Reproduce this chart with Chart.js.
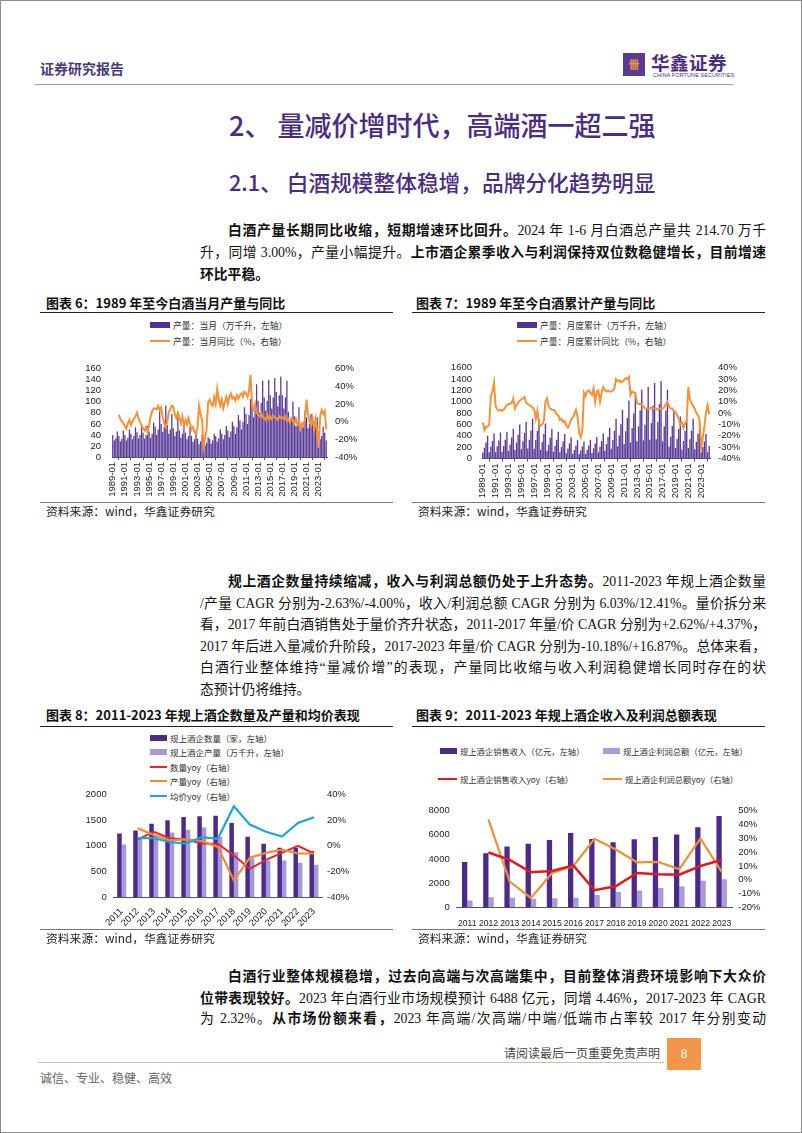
<!DOCTYPE html>
<html lang="zh-CN">
<head>
<meta charset="utf-8">
<title>量减价增时代，高端酒一超二强</title>
<script src="https://cdn.jsdelivr.net/npm/chart.js@4.4.1/dist/chart.umd.min.js"></script>
<style>
  html, body { margin: 0; padding: 0; background: #fff; }
  #page { position: relative; width: 802px; height: 1133px; overflow: hidden; background: #fff;
          font-family: "Noto Sans CJK SC", sans-serif; color: #111; }
  #frame { position: absolute; left: 0; top: 0; width: 802px; height: 1133px; box-sizing: border-box;
           border: 1px solid #8a8a8a; pointer-events: none; }
  .abs { position: absolute; white-space: nowrap; }
  .para { position: absolute; left: 200px; width: 566px; height: 20px; line-height: 20px;
          font-family: "Liberation Sans Narrow", "Liberation Serif", "Noto Sans CJK SC", serif;
          font-size: 13.8px; color: #111; text-align: justify; text-align-last: justify; }
  .para.first { text-indent: 28px; }
  .para.last { text-align-last: left; }
  .para b { font-weight: 700; }
  .ctitle { position: absolute; font-size: 13px; font-weight: 700; line-height: 14px; white-space: nowrap; color: #111; }
  .rule { position: absolute; height: 0; }
  .src { position: absolute; font-size: 11.8px; line-height: 14px; color: #222; white-space: nowrap; }
  .leg { position: absolute; display: flex; align-items: center; height: 12px; font-size: 8.8px;
         color: #333; white-space: nowrap; }
  .leg i { display: inline-block; width: 20px; height: 6px; margin-right: 3px; }
  .leg i.ln { height: 2.5px; }
  canvas { position: absolute; }
</style>
</head>
<body>
<div id="page">
  <!-- header -->
  <div class="abs" style="left:40px;top:60px;font-size:14px;line-height:16px;font-weight:700;color:#4b3b7d;">证券研究报告</div>
  <div class="abs" style="left:623px;top:53px;width:22px;height:23px;background:#5b3a92;color:#f39a3e;font-size:11px;line-height:23px;text-align:center;font-weight:700;">卌</div>
  <div class="abs" style="left:651px;top:52px;font-size:18.5px;line-height:20px;font-weight:700;color:#4d2d83;letter-spacing:0.5px;">华鑫证券</div>
  <div class="abs" style="left:653px;top:72px;font-family:'Liberation Sans',sans-serif;font-size:5.4px;line-height:6px;color:#4d2d83;letter-spacing:0.15px;">CHINA FORTUNE SECURITIES</div>
  <div class="rule" style="left:35px;top:84px;width:698px;border-top:1px solid #a0a0a0;"></div>

  <!-- headings -->
  <div class="abs" style="left:229px;top:110px;font-size:27px;line-height:29px;font-weight:500;color:#4b2c85;">2、 量减价增时代，高端酒一超二强</div>
  <div class="abs" style="left:229px;top:170px;font-size:21.7px;line-height:24px;font-weight:500;color:#4b2c85;">2.1、 白酒规模整体稳增，品牌分化趋势明显</div>

  <!-- paragraph 1 -->
  <div class="para first" style="top:221px;"><b>白酒产量长期同比收缩，短期增速环比回升。</b>2024 年 1-6 月白酒总产量共 214.70 万千</div>
  <div class="para" style="top:243px;">升，同增 3.00%，产量小幅提升。<b>上市酒企累季收入与利润保持双位数稳健增长，目前增速</b></div>
  <div class="para last" style="top:265px;"><b>环比平稳。</b></div>

  <!-- chart 6 / chart 7 frames -->
  <div class="ctitle" style="left:46px;top:296px;">图表 6：1989 年至今白酒当月产量与同比</div>
  <div class="rule" style="left:40px;top:311.5px;width:353px;border-top:1.5px solid #222;"></div>
  <div class="ctitle" style="left:416px;top:296px;">图表 7：1989 年至今白酒累计产量与同比</div>
  <div class="rule" style="left:412px;top:311.5px;width:353px;border-top:1.5px solid #222;"></div>

  <div class="leg" style="left:150px;top:319px;"><i style="background:#4f318f"></i>产量：当月（万千升，左轴）</div>
  <div class="leg" style="left:150px;top:335px;"><i class="ln" style="background:#f7923a"></i>产量：当月同比（%，右轴）</div>
  <div class="leg" style="left:517px;top:319px;"><i style="background:#4f318f"></i>产量：月度累计（万千升，左轴）</div>
  <div class="leg" style="left:517px;top:335px;"><i class="ln" style="background:#f7923a"></i>产量：月度累计同比（%，右轴）</div>

  <canvas id="c6" width="355" height="148" style="left:40px;top:352px;width:355px;height:148px;"></canvas>
  <canvas id="c7" width="355" height="148" style="left:410px;top:352px;width:355px;height:148px;"></canvas>

  <div class="rule" style="left:40px;top:502px;width:353px;border-top:1px solid #777;"></div>
  <div class="src" style="left:46px;top:504px;">资料来源：wind，华鑫证券研究</div>
  <div class="rule" style="left:412px;top:502px;width:353px;border-top:1px solid #777;"></div>
  <div class="src" style="left:418px;top:504px;">资料来源：wind，华鑫证券研究</div>

  <!-- paragraph 2 -->
  <div class="para first" style="top:572px;"><b>规上酒企数量持续缩减，收入与利润总额仍处于上升态势。</b>2011-2023 年规上酒企数量</div>
  <div class="para" style="top:593.5px;">/产量 CAGR 分别为-2.63%/-4.00%，收入/利润总额 CAGR 分别为 6.03%/12.41%。量价拆分来</div>
  <div class="para" style="top:615px;">看，2017 年前白酒销售处于量价齐升状态，2011-2017 年量/价 CAGR 分别为+2.62%/+4.37%，</div>
  <div class="para" style="top:636.5px;">2017 年后进入量减价升阶段，2017-2023 年量/价 CAGR 分别为-10.18%/+16.87%。总体来看，</div>
  <div class="para" style="top:658px;">白酒行业整体维持“量减价增”的表现，产量同比收缩与收入利润稳健增长同时存在的状</div>
  <div class="para last" style="top:679.5px;">态预计仍将维持。</div>

  <!-- chart 8 / chart 9 frames -->
  <div class="ctitle" style="left:46px;top:708px;">图表 8：2011-2023 年规上酒企数量及产量和均价表现</div>
  <div class="rule" style="left:40px;top:725.5px;width:353px;border-top:1.5px solid #222;"></div>
  <div class="ctitle" style="left:416px;top:708px;">图表 9：2011-2023 年规上酒企收入及利润总额表现</div>
  <div class="rule" style="left:412px;top:725.5px;width:353px;border-top:1.5px solid #222;"></div>

  <div class="leg" style="left:150px;top:732px;font-size:8.5px;"><i style="width:17px;background:#4b2a8a"></i>规上酒企数量（家，左轴）</div>
  <div class="leg" style="left:150px;top:746px;font-size:8.5px;"><i style="width:17px;background:#a698d8"></i>规上酒企产量（万千升，左轴）</div>
  <div class="leg" style="left:150px;top:761px;font-size:8.5px;"><i class="ln" style="width:17px;background:#e8262b"></i>数量yoy（右轴）</div>
  <div class="leg" style="left:150px;top:775px;font-size:8.5px;"><i class="ln" style="width:17px;background:#f28a33"></i>产量yoy（右轴）</div>
  <div class="leg" style="left:150px;top:790px;font-size:8.5px;"><i class="ln" style="width:17px;background:#1aa6e0"></i>均价yoy（右轴）</div>

  <div class="leg" style="left:440px;top:745px;font-size:8.3px;"><i style="width:17px;background:#4b2a8a"></i>规上酒企销售收入（亿元，左轴）</div>
  <div class="leg" style="left:603px;top:745px;font-size:8.3px;"><i style="width:17px;background:#a99cdb"></i>规上酒企利润总额（亿元，左轴）</div>
  <div class="leg" style="left:438px;top:773px;font-size:8.3px;"><i class="ln" style="width:19px;background:#e4181c"></i>规上酒企销售收入yoy（右轴）</div>
  <div class="leg" style="left:603px;top:773px;font-size:8.3px;"><i class="ln" style="width:19px;background:#f0903a"></i>规上酒企利润总额yoy（右轴）</div>

  <canvas id="c8" width="355" height="150" style="left:40px;top:782px;width:355px;height:150px;"></canvas>
  <canvas id="c9" width="360" height="128" style="left:410px;top:798px;width:360px;height:128px;"></canvas>

  <div class="rule" style="left:40px;top:929px;width:353px;border-top:1px solid #777;"></div>
  <div class="src" style="left:46px;top:931px;">资料来源：wind，华鑫证券研究</div>
  <div class="rule" style="left:412px;top:929px;width:353px;border-top:1px solid #777;"></div>
  <div class="src" style="left:418px;top:931px;">资料来源：wind，华鑫证券研究</div>

  <!-- paragraph 3 -->
  <div class="para first" style="top:967px;"><b>白酒行业整体规模稳增，过去向高端与次高端集中，目前整体消费环境影响下大众价</b></div>
  <div class="para" style="top:988.5px;"><b>位带表现较好。</b>2023 年白酒行业市场规模预计 6488 亿元，同增 4.46%，2017-2023 年 CAGR</div>
  <div class="para" style="top:1009px;">为 2.32%。<b>从市场份额来看，</b>2023 年高端/次高端/中端/低端市占率较 2017 年分别变动</div>

  <!-- footer -->
  <div class="abs" style="left:504px;top:1046px;font-size:12px;line-height:14px;color:#444;">请阅读最后一页重要免责声明</div>
  <div class="abs" style="left:667px;top:1038px;width:34px;height:32px;background:#f3964a;color:#fff;font-family:'Liberation Sans',sans-serif;font-size:12px;line-height:32px;text-align:center;">8</div>
  <div class="rule" style="left:38px;top:1062px;width:626px;border-top:1px solid #c9c5ae;"></div>
  <div class="abs" style="left:40px;top:1071px;font-size:12px;line-height:14px;color:#666;">诚信、专业、稳健、高效</div>

  <div id="frame"></div>
</div>

<script>
// ---- chart 6 / 7: quarterly samples, 1989-01 .. 2024-04 ----
const quarterLabels = [];
for (let y = 1989; y <= 2024; y++) {
  ['01', '04', '07', '10'].forEach((m) => quarterLabels.push(`${y}-${m}`));
}
quarterLabels.length = 142;

// 产量：当月（万千升）
const prodMonthly = [
  40, 30, 34, 46,   38, 28, 33, 48,   40, 30, 35, 50,   42, 32, 38, 54,
  45, 34, 40, 58,   44, 33, 40, 56,   46, 35, 42, 62,   55, 40, 50, 90,
  60, 45, 55, 93,   58, 42, 50, 78,   52, 38, 46, 80,   48, 35, 42, 62,
  44, 32, 38, 55,   38, 27, 32, 46,   33, 23, 28, 40,   30, 21, 26, 36,
  33, 24, 30, 42,   38, 28, 34, 50,   42, 32, 40, 56,   48, 36, 46, 64,
  56, 42, 54, 76,   66, 50, 64, 90,   78, 60, 76, 105,  92, 72, 90, 132,
  102, 80, 98, 138, 108, 84, 102, 140, 112, 88, 108, 143, 118, 92, 112, 146,
  112, 88, 108, 138, 82, 62, 72, 100, 74, 56, 64, 90,   58, 54, 62, 84,
  72, 52, 60, 78,   66, 48, 56, 72,   46, 32, 38, 55,   44, 30
];

// 产量：当月同比（%）
const prodMonthlyYoy = [
  null, null, null, null, 8, 3, 0, -2,   -5, -8, -2, 2,    -4, 0, 3, 6,
  10, 4, 0, -4,     -8, -10, -6, -12,  -4, 6, 12, 15,    15, 14, 18, 13,
  16, 5, -2, -6,    0, 11, 14, 18,     17, 8, 4, 10,     5, -2, 6, -4,
  2, -3, 4, -2,     -9, -6, -12, -14,  -6, 18, 8, 2,     -28, -18, -8, 22,
  25, 20, 18, 28,   20, 37, 25, 18,    25, 15, 22, 28,   20, 28, 32, 26,
  28, 24, 30, 26,   30, 32, 28, 34,    32, 28, 35, 53,   18, 14, 20, 10,
  8, 6, 10, 5,      4, 2, 8, 3,        6, 3, 7, 5,       4, 2, 6, 4,
  5, 3, 6, 1,       3, -1, 4, 2,       -2, 3, -3, 1,     -8, -2, -5, 4,
  25, 8, 0, -4,     4, -8, 3, -12,     -30, 6, 13, 9,    12, -9
];

// 产量：月度累计（万千升）
const prodCum = [
  100, 188, 280, 400,  110, 207, 308, 440,  114, 214, 319, 456,  118, 222, 330, 472,
  132, 247, 368, 526,  150, 282, 420, 600,  161, 303, 451, 644,  175, 329, 490, 700,
  172, 324, 483, 690,  154, 290, 432, 617,  130, 244, 364, 520,  118, 222, 330, 472,
  108, 202, 301, 430,  94, 177, 263, 376,   80, 151, 225, 322,   75, 141, 210, 300,
  82, 155, 231, 330,   95, 179, 266, 380,   110, 207, 308, 440,  135, 254, 378, 540,
  174, 328, 489, 698,  215, 404, 602, 860,  255, 479, 714, 1020, 282, 531, 791, 1130,
  302, 569, 847, 1210, 315, 593, 883, 1262, 332, 625, 931, 1330, 341, 642, 955, 1365,
  302, 569, 847, 1210, 205, 385, 574, 820,  185, 348, 518, 740,  160, 310, 483, 690,
  185, 340, 490, 700,  162, 295, 434, 620,  110, 202, 301, 430,  112, 220
];

// 产量：月度累计同比（%）
const prodCumYoy = [
  -8, -15, -12, -12,  -10, 15, 19, 27,   6, 3, 2, 3,       2, 3, 5, 7,
  8, 8, 9, 13,        4, 7, 9, 11,       12, 13, 14, 9,    8, 7, 6, 5,
  3, -5, 2, -9,       -11, -10, -7, 10,  13, 6, 4, 3,      3, 2, -1, -2,
  -6, -5, -8, -7,     -11, -13, -10, -6, -4, -1, 3, -3,    -17, -21, -15, 18,
  15, 19, 20, 18,     16, 22, 10, 19,    20, 10, 18, 23,   20, 19, 20, 19,
  19, 20, 22, 30,     28, 29, 27, 28,    29, 31, 30, 32,   16, 19, 18, 18,
  9, 8, 8, 7,         6, 4, 4, 4,        4, 5, 4, 4,       4, 3, 4, 4,
  4, 5, 8, 10,        6, 4, 4, 2,        1, -2, -5, -10,   -8, -13, -9, -6,
  23, 12, 9, 6,       4, 0, -2, -6,      -30, -22, -12, 0, 7, -1
];

// ---- chart 8 / 9: annual, 2011-2023 ----
const firmYears = ['2011', '2012', '2013', '2014', '2015', '2016', '2017', '2018', '2019', '2020', '2021', '2022', '2023'];
const firmCount = [1240, 1300, 1430, 1500, 1565, 1580, 1590, 1445, 1176, 1040, 965, 963, 900];
const firmOutput = [1026, 1140, 1200, 1260, 1315, 1360, 1180, 875, 760, 715, 716, 671, 629];
const firmCountYoy = [null, 5, 11, 6, 5, 1.8, 1.6, -7.5, -18, -11, -5.5, 0, -6];
const firmOutputYoy = [null, 13.7, 8.5, 4.3, 5, 3.8, -0.8, -27, -9.2, -5.5, -3, -6, -6];
const avgPriceYoy = [null, 6, 6, 3, 1.8, 6.8, 5.5, 31, 16.6, 11, 7.3, 17.9, 22.3];

const revenue = [3750, 4480, 5030, 5270, 5580, 6150, 5660, 5380, 5630, 5830, 6035, 6630, 7563];
const profit = [572, 825, 800, 700, 745, 800, 1015, 1265, 1400, 1600, 1730, 2202, 2328];
const revenueYoy = [null, 19.7, 14.4, 5.4, 6.3, 10.4, -7.6, -4.8, 4.9, 4.0, 3.6, 9.9, 14.4];
const profitYoy = [null, 43.5, -1.4, -13.2, 4.9, 9.9, 29.6, 21.9, 12.6, 12.9, 7.6, 29.9, 5.7];

const tickFont = { family: 'Arial, "Liberation Sans", sans-serif', size: 9.5 };
const tickColor = '#222';
const noGrid = { display: false, drawTicks: false };

function fixedWidth(w) { return (scale) => { scale.width = w; }; }
function fixedHeight(h) { return (scale) => { scale.height = h; }; }
const plain = (v) => String(v);
const pct = (v) => v + '%';

const baseOptions = (pad) => ({
  responsive: false,
  animation: false,
  layout: { padding: { top: pad, left: 0, right: 0, bottom: 0 } },
  plugins: { legend: { display: false }, tooltip: { enabled: false }, title: { display: false } }
});

function yAxis(pos, min, max, step, pad, width, cb) {
  return {
    position: pos, min: min, max: max,
    ticks: { stepSize: step, autoSkip: false, padding: pad, font: tickFont, color: tickColor, callback: cb },
    grid: noGrid, border: { display: false },
    afterFit: fixedWidth(width)
  };
}

// Chart 6: 当月产量与同比
new Chart(document.getElementById('c6'), {
  data: {
    labels: quarterLabels,
    datasets: [
      { type: 'line', data: prodMonthlyYoy, yAxisID: 'y1', borderColor: '#f7923a', borderWidth: 2,
        pointRadius: 0, tension: 0, order: 1 },
      { type: 'bar', data: prodMonthly, yAxisID: 'y', backgroundColor: '#583b98',
        barPercentage: 0.85, categoryPercentage: 1, order: 2 }
    ]
  },
  options: {
    ...baseOptions(7),
    scales: {
      x: {
        ticks: { autoSkip: false, minRotation: 90, maxRotation: 90, padding: 2, font: tickFont, color: tickColor,
          callback: function (v, i) { return i % 8 === 0 ? this.getLabelForValue(v) : null; } },
        grid: { display: true, drawOnChartArea: false, drawTicks: true, tickLength: 3, color: '#555' },
        border: { display: true, color: '#555' },
        afterFit: fixedHeight(43)
      },
      y: yAxis('left', 0, 160, 20, 11, 72, plain),
      y1: yAxis('right', -40, 60, 20, 8, 68, pct)
    }
  }
});

// Chart 7: 累计产量与同比
new Chart(document.getElementById('c7'), {
  data: {
    labels: quarterLabels,
    datasets: [
      { type: 'line', data: prodCumYoy, yAxisID: 'y1', borderColor: '#f7923a', borderWidth: 2,
        pointRadius: 0, tension: 0, order: 1 },
      { type: 'bar', data: prodCum, yAxisID: 'y', backgroundColor: '#583b98',
        barPercentage: 0.85, categoryPercentage: 1, order: 2 }
    ]
  },
  options: {
    ...baseOptions(7),
    scales: {
      x: {
        ticks: { autoSkip: false, minRotation: 90, maxRotation: 90, padding: 2, font: tickFont, color: tickColor,
          callback: function (v, i) { return i % 8 === 0 ? this.getLabelForValue(v) : null; } },
        grid: { display: true, drawOnChartArea: false, drawTicks: true, tickLength: 3, color: '#555' },
        border: { display: true, color: '#555' },
        afterFit: fixedHeight(41.5)
      },
      y: yAxis('left', 0, 1600, 200, 10, 72, plain),
      y1: yAxis('right', -40, 40, 10, 8, 55, pct)
    }
  }
});

// Chart 8: 规上酒企数量、产量、均价
new Chart(document.getElementById('c8'), {
  data: {
    labels: firmYears,
    datasets: [
      { type: 'line', data: avgPriceYoy, yAxisID: 'y1', borderColor: '#1aa6e0', borderWidth: 2.2,
        pointRadius: 0, tension: 0, order: 1 },
      { type: 'line', data: firmOutputYoy, yAxisID: 'y1', borderColor: '#f28a33', borderWidth: 2.2,
        pointRadius: 0, tension: 0, order: 1 },
      { type: 'line', data: firmCountYoy, yAxisID: 'y1', borderColor: '#e8262b', borderWidth: 2,
        pointRadius: 0, tension: 0, order: 1 },
      { type: 'bar', data: firmCount, yAxisID: 'y', backgroundColor: '#4b2a8a',
        barPercentage: 1, categoryPercentage: 0.56, order: 2 },
      { type: 'bar', data: firmOutput, yAxisID: 'y', backgroundColor: '#a698d8',
        barPercentage: 1, categoryPercentage: 0.56, order: 2 }
    ]
  },
  options: {
    ...baseOptions(6),
    scales: {
      x: {
        ticks: { autoSkip: false, minRotation: 45, maxRotation: 45, padding: 1, font: tickFont, color: tickColor },
        grid: { display: false }, border: { display: true, color: '#555' },
        afterFit: fixedHeight(35)
      },
      y: yAxis('left', 0, 2000, 500, 7, 73.7, plain),
      y1: yAxis('right', -40, 40, 20, 5, 73, pct)
    }
  }
});

// Chart 9: 规上酒企收入、利润
new Chart(document.getElementById('c9'), {
  data: {
    labels: firmYears,
    datasets: [
      { type: 'line', data: revenueYoy, yAxisID: 'y1', borderColor: '#e4181c', borderWidth: 2.5,
        pointRadius: 0, tension: 0, order: 1 },
      { type: 'line', data: profitYoy, yAxisID: 'y1', borderColor: '#f0903a', borderWidth: 2.2,
        pointRadius: 0, tension: 0, order: 1 },
      { type: 'bar', data: revenue, yAxisID: 'y', backgroundColor: '#4b2a8a',
        barPercentage: 1, categoryPercentage: 0.5, order: 2 },
      { type: 'bar', data: profit, yAxisID: 'y', backgroundColor: '#a99cdb',
        barPercentage: 1, categoryPercentage: 0.5, order: 2 }
    ]
  },
  options: {
    ...baseOptions(6.3),
    scales: {
      x: {
        ticks: { autoSkip: false, maxRotation: 0, padding: 3, font: { ...tickFont, size: 8.6 }, color: tickColor },
        grid: { display: false }, border: { display: true, color: '#555' },
        afterFit: fixedHeight(18.7)
      },
      y: yAxis('left', 0, 8000, 2000, 7, 46.7, plain),
      y1: yAxis('right', -20, 50, 10, 6, 37.7, pct)
    }
  }
});
</script>
</body>
</html>
